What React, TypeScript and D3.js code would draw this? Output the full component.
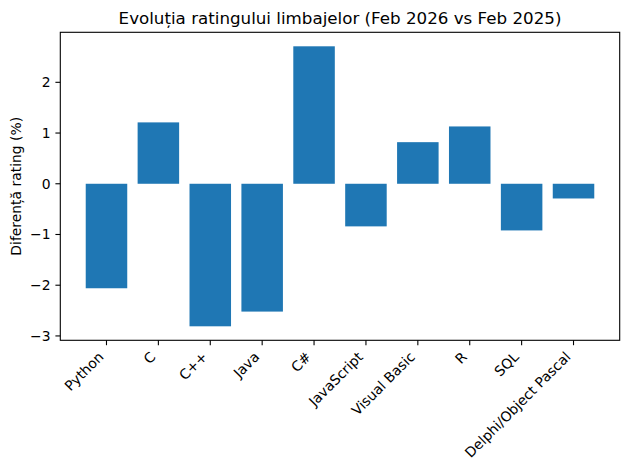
import * as d3 from "d3";

const languages = [
  "Python",
  "C",
  "C++",
  "Java",
  "C#",
  "JavaScript",
  "Visual Basic",
  "R",
  "SQL",
  "Delphi/Object Pascal",
];
const ratingDiff = [-2.06, 1.21, -2.81, -2.52, 2.71, -0.84, 0.82, 1.13, -0.92, -0.29];
const yTicks = [-3, -2, -1, 0, 1, 2];

const W = 630;
const H = 470;
const margin = { top: 32.3, right: 10.3, bottom: 129.7, left: 60.3 };
const FONT = "'DejaVu Sans', sans-serif";
const BAR = "#1f77b4";

export default function App() {
  const x = d3
    .scaleLinear()
    .domain([-0.89, languages.length - 1 + 0.89])
    .range([margin.left, W - margin.right]);
  const yMin = d3.min(ratingDiff)!;
  const yMax = d3.max(ratingDiff)!;
  const pad = (yMax - yMin) * 0.05;
  const y = d3
    .scaleLinear()
    .domain([yMin - pad, yMax + pad])
    .range([H - margin.bottom, margin.top]);

  const barW = x(0.8) - x(0);
  const x0 = margin.left;
  const x1 = W - margin.right;
  const y0 = margin.top;
  const y1 = H - margin.bottom;
  const fmt = (v: number) => (v < 0 ? "\u2212" + Math.abs(v) : String(v));

  return (
    <svg
      width={W}
      height={H}
      style={{ position: "absolute", left: 0, top: 0, background: "#fff" }}
      fontFamily={FONT}
    >
      {/* bars */}
      {ratingDiff.map((v, i) => (
        <rect
          key={i}
          x={x(i) - barW / 2}
          y={Math.min(y(v), y(0))}
          width={barW}
          height={Math.abs(y(v) - y(0))}
          fill={BAR}
        />
      ))}

      {/* frame */}
      <rect x={x0} y={y0} width={x1 - x0} height={y1 - y0} fill="none" stroke="#000" strokeWidth={1.1} />

      {/* y axis */}
      {yTicks.map((t) => (
        <g key={t} transform={`translate(0,${y(t)})`}>
          <line x1={x0 - 4.9} x2={x0} stroke="#000" strokeWidth={1.1} />
          <text x={x0 - 9.7} dy="0.35em" textAnchor="end" fontSize={13.9} fill="#000">
            {fmt(t)}
          </text>
        </g>
      ))}

      {/* x axis */}
      {languages.map((name, i) => (
        <g key={name}>
          <line x1={x(i)} x2={x(i)} y1={y1} y2={y1 + 4.9} stroke="#000" strokeWidth={1.1} />
          <text
            transform={`translate(${x(i) - 2},${y1 + 17.5}) rotate(-45)`}
            textAnchor="end"
            fontSize={13.9}
            fill="#000"
          >
            {name}
          </text>
        </g>
      ))}

      {/* y label */}
      <text
        transform={`translate(21,${(y0 + y1) / 2}) rotate(-90)`}
        textAnchor="middle"
        fontSize={13.9}
        fill="#000"
      >
        Diferență rating (%)
      </text>

      {/* title */}
      <text x={(x0 + x1) / 2} y={y0 - 8.3} textAnchor="middle" fontSize={16.7} fill="#000">
        Evoluția ratingului limbajelor (Feb 2026 vs Feb 2025)
      </text>
    </svg>
  );
}
